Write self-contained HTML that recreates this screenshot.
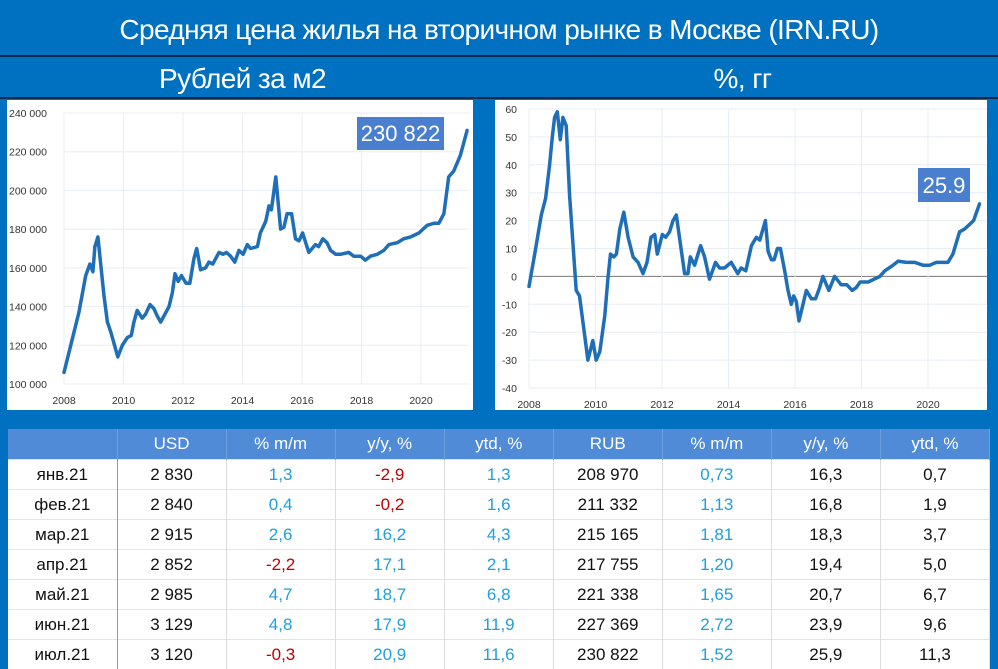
<!DOCTYPE html>
<html><head><meta charset="utf-8">
<style>
body{margin:0;width:998px;height:665px;background:#0070c0;overflow:hidden;font-family:"Liberation Sans","DejaVu Sans",sans-serif;position:relative}
.abs{position:absolute}
.title{left:0;top:0;width:998px;height:55px;color:#fff;font-size:28px;text-align:center;line-height:60px;letter-spacing:-0.6px}
.line{left:0;width:998px;height:2px;background:#0b2a4a}
.sub{color:#fff;font-size:28px;top:58px;line-height:42px;text-align:center;letter-spacing:-0.6px}
svg text{font-family:"Liberation Sans",sans-serif}
table{border-collapse:collapse;position:absolute;left:8px;top:429px;width:982px;table-layout:fixed;font-size:17px}
th{background:#4f8bd6;color:#fff;font-weight:normal;height:28px;border-right:1px solid #6d9fdd}
td{background:#fff;height:27px;text-align:center;border-right:1px solid #ddd;border-top:1px solid #e4e4e4;color:#111}
td.b{color:#1ea0dc}td.r{color:#c00000}
td:first-child{border-right:1px solid #999}
</style></head><body>
<div class="abs title">Средняя цена жилья на вторичном рынке в Москве (IRN.RU)</div>
<div class="abs line" style="top:55px"></div>
<div class="abs sub" style="left:0;width:485px">Рублей за м2</div>
<div class="abs sub" style="left:495px;width:495px">%, гг</div>
<div class="abs line" style="top:97px"></div>
<svg class="abs" id="c1" style="left:7px;top:100px" width="466" height="310"></svg>
<svg class="abs" id="c2" style="left:495px;top:100px" width="492" height="310"></svg>
<div class="abs" style="left:357px;top:117px;width:87px;height:33px;background:#4a7fd0;color:#fff;font-size:22px;line-height:34px;text-align:center">230 822</div>
<div class="abs" style="left:918px;top:168px;width:52px;height:34px;background:#4a7fd0;color:#fff;font-size:22px;line-height:35px;text-align:center">25.9</div>
<table>
<tr><th></th><th>USD</th><th>% m/m</th><th>y/y, %</th><th>ytd, %</th><th>RUB</th><th>% m/m</th><th>y/y, %</th><th>ytd, %</th></tr>
<tr><td>янв.21</td><td>2 830</td><td class="b">1,3</td><td class="r">-2,9</td><td class="b">1,3</td><td>208 970</td><td class="b">0,73</td><td>16,3</td><td>0,7</td></tr>
<tr><td>фев.21</td><td>2 840</td><td class="b">0,4</td><td class="r">-0,2</td><td class="b">1,6</td><td>211 332</td><td class="b">1,13</td><td>16,8</td><td>1,9</td></tr>
<tr><td>мар.21</td><td>2 915</td><td class="b">2,6</td><td class="b">16,2</td><td class="b">4,3</td><td>215 165</td><td class="b">1,81</td><td>18,3</td><td>3,7</td></tr>
<tr><td>апр.21</td><td>2 852</td><td class="r">-2,2</td><td class="b">17,1</td><td class="b">2,1</td><td>217 755</td><td class="b">1,20</td><td>19,4</td><td>5,0</td></tr>
<tr><td>май.21</td><td>2 985</td><td class="b">4,7</td><td class="b">18,7</td><td class="b">6,8</td><td>221 338</td><td class="b">1,65</td><td>20,7</td><td>6,7</td></tr>
<tr><td>июн.21</td><td>3 129</td><td class="b">4,8</td><td class="b">17,9</td><td class="b">11,9</td><td>227 369</td><td class="b">2,72</td><td>23,9</td><td>9,6</td></tr>
<tr><td>июл.21</td><td>3 120</td><td class="r">-0,3</td><td class="b">20,9</td><td class="b">11,6</td><td>230 822</td><td class="b">1,52</td><td>25,9</td><td>11,3</td></tr>
</table>
<script>
const priceDates=[2008.0,2008.5,2008.73,2008.87,2008.97,2009.04,2009.14,2009.34,2009.46,2009.57,2009.81,2009.96,2010.13,2010.26,2010.35,2010.46,2010.63,2010.74,2010.89,2011.02,2011.14,2011.25,2011.53,2011.64,2011.73,2011.84,2011.95,2012.1,2012.23,2012.37,2012.46,2012.59,2012.76,2012.87,2013.0,2013.21,2013.35,2013.46,2013.6,2013.74,2013.88,2014.02,2014.16,2014.27,2014.5,2014.6,2014.78,2014.89,2014.97,2015.12,2015.28,2015.39,2015.5,2015.65,2015.78,2015.9,2016.02,2016.23,2016.45,2016.56,2016.7,2016.84,2016.96,2017.13,2017.29,2017.57,2017.74,2017.97,2018.13,2018.3,2018.53,2018.75,2018.92,2019.2,2019.42,2019.65,2019.93,2020.21,2020.43,2020.6,2020.77,2020.93,2021.1,2021.32,2021.55];
const priceValues=[106,137,156,162,158,171,176,146,132,127,114,120,124,125,132,138,134,136,141,139,135,132,140,147,157,153,156,152,152,165,170,159,160,163,162,168,167,168,166,163,169,167,172,170,171,178,184,192,190,207,180,181,188,188,175,174,178,168,172,171,175,173,169,167,167,168,166,166,164,166,167,169,172,173,175,176,178,182,183,183,188,207,210,218,231];
const priceTicks=[100000,120000,140000,160000,180000,200000,220000,240000];
const priceTickLabels=["100 000","120 000","140 000","160 000","180 000","200 000","220 000","240 000"];
const yearTicks=[2008,2010,2012,2014,2016,2018,2020];
const yoyDates=[2008.0,2008.17,2008.37,2008.5,2008.62,2008.7,2008.77,2008.85,2008.94,2009.02,2009.12,2009.22,2009.42,2009.52,2009.77,2009.92,2010.02,2010.13,2010.28,2010.38,2010.45,2010.55,2010.63,2010.73,2010.85,2010.98,2011.13,2011.28,2011.43,2011.55,2011.67,2011.78,2011.86,2012.01,2012.11,2012.23,2012.33,2012.43,2012.68,2012.78,2012.85,2012.98,2013.16,2013.28,2013.43,2013.61,2013.73,2013.88,2014.08,2014.28,2014.38,2014.52,2014.69,2014.84,2014.94,2015.11,2015.19,2015.29,2015.37,2015.47,2015.56,2015.69,2015.79,2015.89,2015.96,2016.04,2016.12,2016.24,2016.34,2016.49,2016.62,2016.74,2016.84,2017.02,2017.19,2017.39,2017.56,2017.72,2017.84,2017.96,2018.2,2018.55,2018.7,2018.95,2019.1,2019.35,2019.6,2019.85,2020.05,2020.25,2020.6,2020.75,2020.95,2021.1,2021.37,2021.55];
const yoyValues=[-3.6,8,22,28,40,50,57,59,49,57,54,29,-5,-7,-30,-23,-30,-27,-14,0,8,7,8,17,23,14,7,5,1,5,14,15,8,15,14,16,20,22,1,1,7,4,11,7,-1,5,3,3,5,1,3,2,11,14,13,20,9,6,6,10,10,2,-5,-10,-7,-9,-16,-10,-5,-8,-8,-4,0,-5,0,-3,-3,-5,-4,-2,-2,0,2,4,5.5,5,5,4,4,5,5,8,16,17,20,26];
const yoyTicks=[-40,-30,-20,-10,0,10,20,30,40,50,60];
const NS="http://www.w3.org/2000/svg";
function mk(svg,tag,attrs){const e=document.createElementNS(NS,tag);for(const k in attrs)e.setAttribute(k,attrs[k]);svg.appendChild(e);return e;}
function draw(svg,o){
  mk(svg,'rect',{x:0,y:0,width:svg.getAttribute('width'),height:svg.getAttribute('height'),fill:'#fff'});
  const xs=v=>o.x0+(v-2008)/12*(o.x1-o.x0);
  const ys=v=>o.y0+(v-o.vmin)/(o.vmax-o.vmin)*(o.y1-o.y0);
  o.ticks.forEach((t,i)=>{
    const g=mk(svg,'line',{x1:o.x0,x2:o.right,y1:ys(t),y2:ys(t),stroke:t===0&&o.zero?'#777':'#e8eef4','stroke-width':1});
    
    const tx=mk(svg,'text',{x:o.lx,y:ys(t)+4,'font-size':10.5,fill:'#333','text-anchor':o.anchor});
    tx.textContent=o.labels[i];
  });
  yearTicks.forEach(y=>{
    const g=mk(svg,'line',{x1:xs(y),x2:xs(y),y1:ys(o.vmax),y2:ys(o.vmin),stroke:'#e8eef4'});
    
    const tx=mk(svg,'text',{x:xs(y),y:o.xl,'font-size':10.5,fill:'#333','text-anchor':'middle'});
    tx.textContent=y;
  });
  const d=o.dates.map((t,i)=>(i?'L':'M')+xs(t).toFixed(1)+','+ys(o.vals[i]).toFixed(1)).join('');
  const p=mk(svg,'path',{d:d,fill:'none',stroke:'#1f6fb8','stroke-width':3.5,'stroke-linejoin':'round','stroke-linecap':'round'});
  
}
draw(document.getElementById('c1'),{x0:57,x1:414,y0:284,y1:13,vmin:100,vmax:240,right:462,ticks:priceTicks.map(v=>v/1000),labels:priceTickLabels,lx:2,anchor:'start',xl:304,dates:priceDates,vals:priceValues});
draw(document.getElementById('c2'),{x0:34,x1:433,y0:288,y1:9,vmin:-40,vmax:60,right:494,ticks:yoyTicks,labels:yoyTicks.map(String),lx:22,anchor:'end',xl:308,zero:true,dates:yoyDates,vals:yoyValues});
</script>
</body></html>
